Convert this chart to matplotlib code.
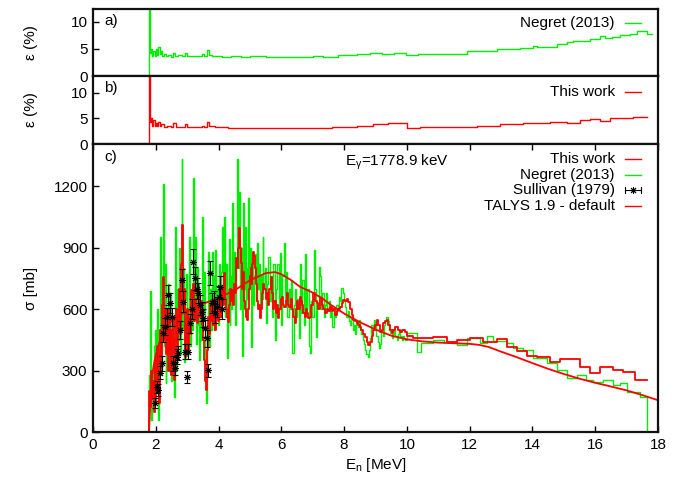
import matplotlib
matplotlib.use("Agg")
import matplotlib.pyplot as plt

plt.rcParams['font.family'] = ['Liberation Sans', 'DejaVu Sans']
plt.rcParams['font.size'] = 11
plt.rcParams['mathtext.default'] = 'regular'

GREEN = '#00ee00'
RED = '#ff0000'

# --- panel a: Negret (2013) relative uncertainty [%] (bin left edges)
neg_unc_e = [1.70, 1.79, 1.81, 1.84, 1.88, 1.92, 1.96, 2.00, 2.04, 2.08, 2.12, 2.16,
             2.20, 2.26, 2.32, 2.40, 2.50, 2.56, 2.62, 2.72, 2.82, 2.93, 3.00,
             3.10, 3.25, 3.40, 3.46, 3.55, 3.62, 3.68, 3.80, 3.90, 4.10, 4.40,
             4.70, 5.00, 5.50, 6.00, 6.50, 7.00, 7.33, 7.80, 8.40, 8.82, 9.20,
             9.60, 9.97, 10.36, 11.00, 11.90, 12.86, 13.60, 14.03, 14.13, 14.77,
             15.09, 15.30, 15.83, 16.15, 16.31, 16.52, 16.79, 17.10, 17.32, 17.64, 17.80]
neg_unc = [0.0, 12.5, 4.2, 5.0, 3.6, 4.6, 3.7, 4.9, 3.8, 5.4, 4.0, 4.6,
           3.6, 4.0, 3.6, 3.8, 3.5, 4.2, 3.6, 3.8, 3.6, 4.3, 3.7,
           3.6, 3.7, 3.6, 4.0, 3.7, 4.8, 3.9, 3.6, 3.7, 3.5, 3.6,
           3.5, 3.6, 3.5, 3.55, 3.5, 3.6, 3.55, 3.8, 4.0, 4.3, 4.1,
           4.3, 3.85, 3.97, 4.1, 4.5, 4.95, 5.2, 5.55, 5.4, 5.8,
           6.2, 6.45, 6.8, 7.3, 6.9, 7.2, 7.5, 7.8, 8.25, 7.65, 7.65]

# --- panel b: this work relative uncertainty [%]
tw_unc_e = [1.70, 1.79, 1.81, 1.84, 1.88, 1.92, 1.96, 2.00, 2.04, 2.08, 2.12, 2.18,
            2.26, 2.36, 2.48, 2.56, 2.64, 2.80, 2.93, 3.00, 3.20, 3.46, 3.55,
            3.62, 3.70, 3.90, 4.30, 4.68, 5.50, 6.80, 7.60, 8.40, 8.93, 9.40,
            9.99, 10.42, 12.22, 12.97, 13.71, 14.56, 15.09, 15.51, 15.83,
            16.15, 16.47, 17.21, 17.64]
tw_unc = [0.0, 13.5, 4.3, 5.0, 3.6, 4.6, 3.5, 4.2, 3.5, 4.4, 3.6, 3.9,
          3.3, 3.6, 3.3, 4.1, 3.4, 3.3, 3.9, 3.3, 3.4, 3.5, 3.3,
          4.4, 3.5, 3.3, 3.2, 3.15, 3.1, 3.1, 3.3, 3.6, 3.9, 4.1,
          3.07, 3.4, 3.6, 3.85, 4.05, 4.25, 4.2, 4.7, 4.9,
          4.57, 5.03, 5.37, 5.37]

# --- panel c: Negret (2013) cross section [mb]
neg_e = [1.70, 1.77, 1.80, 1.82, 1.84, 1.87, 1.90, 1.93, 1.96, 1.99, 2.02, 2.05,
         2.07, 2.10, 2.13, 2.16, 2.19, 2.22, 2.25, 2.28, 2.31, 2.34, 2.37, 2.40,
         2.43, 2.46, 2.49, 2.52, 2.55, 2.58, 2.61, 2.64, 2.67, 2.70, 2.73, 2.76,
         2.79, 2.82, 2.85, 2.88, 2.91, 2.94, 2.97, 3.00, 3.03, 3.06, 3.09, 3.12,
         3.15, 3.18, 3.21, 3.24, 3.27, 3.30, 3.33, 3.36, 3.39, 3.42, 3.45, 3.48,
         3.51, 3.54, 3.57, 3.60, 3.63, 3.66, 3.69, 3.72, 3.75, 3.78, 3.81, 3.84,
         3.87, 3.90, 3.93, 3.96, 3.99, 4.02, 4.05, 4.08, 4.11, 4.14, 4.17, 4.20,
         4.23, 4.26, 4.29, 4.32, 4.35, 4.38, 4.41, 4.44, 4.47, 4.50, 4.53, 4.56,
         4.59, 4.62, 4.65, 4.68, 4.71, 4.74, 4.77, 4.80, 4.83, 4.86, 4.89, 4.92,
         4.95, 4.98, 5.01, 5.04, 5.07, 5.10, 5.13, 5.16, 5.19, 5.22, 5.25, 5.28,
         5.31, 5.34, 5.37, 5.40, 5.43, 5.47, 5.51, 5.55, 5.59, 5.63, 5.67, 5.71,
         5.75, 5.79, 5.83, 5.87, 5.91, 5.95, 5.99, 6.03, 6.07, 6.11, 6.15, 6.19,
         6.23, 6.27, 6.31, 6.35, 6.39, 6.43, 6.47, 6.51, 6.55, 6.59, 6.63, 6.67,
         6.71, 6.75, 6.79, 6.83, 6.87, 6.91, 6.95, 6.99, 7.03, 7.07, 7.11, 7.15,
         7.19, 7.23, 7.27, 7.31, 7.35, 7.39, 7.43, 7.47, 7.51, 7.55, 7.59, 7.63,
         7.67, 7.71, 7.75, 7.79, 7.83, 7.87, 7.91, 7.95, 7.99, 8.03, 8.07, 8.11,
         8.15, 8.19, 8.23, 8.27, 8.31, 8.35, 8.39, 8.43, 8.47, 8.51, 8.55, 8.59,
         8.63, 8.67, 8.71, 8.75, 8.79, 8.83, 8.87, 8.91, 8.95, 8.99, 9.03, 9.07,
         9.11, 9.15, 9.19, 9.23, 9.27, 9.31, 9.35, 9.39, 9.43, 9.47, 9.51, 9.55,
         9.59, 9.63, 9.67, 9.71, 9.75, 9.79, 9.83, 9.87, 9.91, 9.95,
         10.00, 10.33, 10.45, 10.84, 11.17, 11.59, 11.91, 12.33, 12.54, 12.75,
         13.18, 13.39, 13.71, 14.02, 14.45, 14.77, 15.09, 15.41, 15.72, 15.94,
         16.26, 16.58, 16.79, 17.00, 17.43, 17.64]
neg_xs = [0, 280, 120, 690, 60, 300, 180, 420, 150, 500, 230, 600,
          60, 380, 950, 280, 700, 1210, 420, 820, 240, 560, 340, 720,
          300, 680, 250, 540, 400, 170, 1000, 300, 700, 450, 900, 380,
          620, 1330, 500, 800, 340, 650, 770, 370, 560, 950, 420, 700,
          500, 1240, 600, 950, 430, 800, 520, 720, 350, 640, 450, 1050,
          600, 780, 300, 140, 520, 880, 420, 700, 500, 880, 560, 760,
          500, 890, 600, 700, 520, 820, 600, 780, 1000, 650, 1050, 560,
          820, 360, 700, 940, 520, 760, 600, 1115, 700, 880, 520, 820,
          1330, 800, 1170, 600, 900, 370, 1115, 700, 1000, 560, 800, 650,
          1140, 700, 900, 416, 850, 620, 760, 870, 640, 920, 700, 820,
          610, 760, 650, 950, 700, 800, 530, 720, 855, 640, 760, 560,
          820, 450, 700, 822, 600, 871, 520, 760, 920, 640, 780, 560,
          700, 600, 740, 384, 620, 700, 560, 650, 460, 820, 580, 740,
          520, 870, 600, 700, 420, 384, 640, 560, 888, 700, 465, 620,
          806, 760, 600, 680, 560, 620, 680, 600, 640, 560, 600, 512,
          580, 560, 620, 600, 660, 640, 701, 680, 640, 611, 560, 590,
          540, 520, 560, 497, 520, 480, 540, 510, 546, 500, 480, 450,
          430, 400, 380, 367, 400, 460, 520, 500, 546, 520, 470, 440,
          410, 430, 500, 470, 520, 540, 562, 540, 500, 481, 460, 480,
          500, 470, 450, 480, 497, 470, 450, 470, 460, 450,
          481, 392, 433, 449, 441, 424, 457, 433, 468, 445,
          436, 408, 400, 359, 335, 302, 262, 278, 254, 245,
          254, 229, 240, 197, 172, 0]

# --- panel c: this work cross section [mb]
tw_e = [1.70, 1.78, 1.81, 1.84, 1.87, 1.90, 1.93, 1.96, 1.99, 2.02, 2.05, 2.08,
        2.11, 2.14, 2.17, 2.20, 2.23, 2.26, 2.29, 2.32, 2.35, 2.38, 2.41, 2.44,
        2.47, 2.50, 2.53, 2.56, 2.59, 2.62, 2.65, 2.68, 2.71, 2.74, 2.77, 2.80,
        2.83, 2.86, 2.89, 2.92, 2.95, 2.98, 3.01, 3.04, 3.07, 3.10, 3.13, 3.16,
        3.19, 3.22, 3.25, 3.28, 3.31, 3.34, 3.37, 3.40, 3.43, 3.46, 3.49, 3.52,
        3.55, 3.58, 3.61, 3.64, 3.67, 3.70, 3.73, 3.76, 3.79, 3.82, 3.85, 3.88,
        3.91, 3.94, 3.97, 4.00, 4.03, 4.06, 4.09, 4.12, 4.15, 4.18, 4.21, 4.24,
        4.27, 4.30, 4.33, 4.36, 4.39, 4.42, 4.45, 4.48, 4.51, 4.54, 4.57, 4.60,
        4.63, 4.66, 4.69, 4.72, 4.75, 4.78, 4.81, 4.84, 4.87, 4.90, 4.93, 4.96,
        4.99, 5.02, 5.05, 5.08, 5.11, 5.14, 5.17, 5.20, 5.23, 5.26, 5.29, 5.32,
        5.35, 5.38, 5.42, 5.46, 5.50, 5.54, 5.58, 5.62, 5.66, 5.70, 5.74, 5.78,
        5.82, 5.86, 5.90, 5.94, 5.98, 6.02, 6.06, 6.10, 6.14, 6.18, 6.22, 6.26,
        6.30, 6.34, 6.38, 6.42, 6.46, 6.50, 6.54, 6.58, 6.62, 6.66, 6.70, 6.74,
        6.78, 6.82, 6.86, 6.90, 6.95, 7.01, 7.07, 7.13, 7.18, 7.23, 7.28, 7.33,
        7.39, 7.44, 7.49, 7.55, 7.60, 7.66, 7.71, 7.76, 7.82, 7.87, 7.92, 7.97,
        8.02, 8.08, 8.13, 8.18, 8.24, 8.29, 8.34, 8.40, 8.45, 8.50, 8.55, 8.61,
        8.66, 8.72, 8.77, 8.82, 8.88, 8.93, 8.98, 9.04, 9.09, 9.14, 9.20, 9.25,
        9.30, 9.36, 9.41, 9.47, 9.52, 9.57, 9.63, 9.68, 9.73, 9.78, 9.83, 9.88,
        9.94, 10.00, 10.20, 10.84, 11.27, 11.59, 12.01, 12.43, 12.86, 13.18,
        13.50, 13.82, 14.13, 14.56, 14.88, 15.51, 15.83, 16.15, 16.58, 16.89,
        17.27, 17.64]
tw_xs = [0, 200, 120, 300, 160, 250, 100, 350, 140, 300, 420, 200,
         140, 500, 300, 620, 758, 450, 600, 380, 520, 300, 600, 400,
         500, 280, 420, 562, 254, 450, 600, 350, 560, 700, 480, 820,
         1010, 600, 700, 367, 520, 450, 600, 400, 560, 480, 692, 620,
         720, 540, 650, 560, 530, 620, 680, 560, 640, 520, 600, 450,
         350, 250, 205, 400, 560, 480, 620, 540, 640, 520, 600, 498,
         560, 620, 540, 660, 600, 650, 560, 700, 620, 774, 650, 600,
         560, 538, 620, 700, 640, 693, 620, 720, 680, 760, 850, 800,
         900, 995, 900, 825, 700, 780, 640, 600, 560, 546, 600, 700,
         760, 800, 720, 820, 880, 860, 801, 720, 640, 600, 620, 556,
         600, 680, 724, 700, 650, 676, 620, 700, 758, 680, 600, 640,
         580, 620, 556, 600, 650, 660, 620, 611, 640, 676, 620, 611,
         650, 600, 560, 530, 600, 640, 600, 660, 640, 620, 580, 560,
         600, 580, 555, 560, 620, 678, 640, 628, 600, 653, 620, 600,
         579, 600, 590, 611, 590, 600, 571, 590, 600, 611, 630, 644,
         640, 650, 636, 600, 570, 546, 540, 530, 520, 514, 500, 480,
         465, 440, 424, 440, 470, 497, 520, 546, 520, 489, 500, 530,
         540, 546, 520, 500, 481, 500, 510, 514, 500, 490, 500, 497,
         490, 470, 457, 465, 441, 449, 457, 441, 453, 416,
         397, 371, 367, 343, 355, 319, 286, 319, 302, 294,
         254, 254]

# --- panel c: Sullivan (1979)
sul_e = [1.98, 2.03, 2.08, 2.13, 2.19, 2.24, 2.29, 2.35, 2.40, 2.45, 2.51, 2.56,
         2.61, 2.67, 2.72, 2.77, 2.83, 2.88, 2.93, 2.98, 3.04, 3.09, 3.14, 3.20,
         3.25, 3.30, 3.36, 3.41, 3.46, 3.51, 3.57, 3.62, 3.67, 3.73, 3.78, 3.84,
         3.89, 3.94, 4.00, 4.05, 4.10]
sul_xs = [140, 221, 205, 290, 335, 481, 514, 562, 668, 628, 562, 335,
          311, 367, 385, 498, 741, 636, 392, 270, 392, 530, 600, 831,
          750, 700, 677, 620, 587, 555, 506, 457, 302, 774, 628, 640,
          579, 610, 660, 709, 600]
sul_err = [25, 30, 28, 30, 35, 40, 42, 45, 50, 48, 45, 35,
           32, 36, 36, 42, 55, 50, 36, 30, 38, 45, 48, 62,
           56, 52, 50, 48, 46, 45, 42, 40, 32, 58, 48, 50,
           46, 48, 50, 54, 48]

# --- panel c: TALYS 1.9 default
talys_e = [1.00, 1.78, 1.82, 1.86, 1.90, 1.95, 2.00, 2.10, 2.20, 2.30, 2.50, 2.70,
           3.00, 3.50, 4.00, 4.50, 5.00, 5.50, 5.80, 6.00, 6.30, 6.60, 7.00,
           7.30, 7.60, 8.00, 8.50, 9.00, 9.50, 10.00, 10.50, 11.00, 11.50,
           12.00, 12.30, 12.60, 13.00, 13.50, 14.00, 14.50, 15.00, 15.50,
           16.00, 16.50, 17.00, 17.50, 18.00]
talys_xs = [0, 0, 120, 220, 290, 340, 375, 430, 475, 505, 540, 565,
            590, 625, 655, 690, 740, 775, 780, 770, 742, 708, 680,
            652, 618, 578, 536, 500, 470, 452, 442, 436, 433,
            430, 425, 415, 392, 365, 336, 308, 283, 260,
            240, 222, 203, 180, 155]

W, H = 683, 478
fig = plt.figure(figsize=(W / 100, H / 100), dpi=100)


def px_box(x0, y0, x1, y1):
    return [x0 / W, 1 - y1 / H, (x1 - x0) / W, (y1 - y0) / H]


ax_a = fig.add_axes(px_box(93, 9, 658, 76))
ax_b = fig.add_axes(px_box(93, 76, 658, 144))
ax_c = fig.add_axes(px_box(93, 144, 658, 432))

for ax in (ax_a, ax_b, ax_c):
    ax.set_xlim(0, 18)
    for sp in ax.spines.values():
        sp.set_linewidth(1.6)
        sp.set_color('#111111')
    ax.tick_params(direction='in', length=4, width=1, labelsize=11, pad=4)

for ax in (ax_a, ax_b):
    ax.set_xticks([])
    ax.set_yticks([0, 5, 10])
    ax.set_ylabel('ε (%)', fontsize=11, labelpad=14)
    ax.yaxis.set_label_coords(-0.098, 0.5)

ax_a.set_ylim(0, 12.3)
ax_b.set_ylim(0, 13.3)

ax_a.plot(neg_unc_e, neg_unc, color=GREEN, lw=1.0, drawstyle='steps-post')
ax_b.plot(tw_unc_e, tw_unc, color=RED, lw=1.0, drawstyle='steps-post')

ax_a.text(0.02, 0.82, 'a)', transform=ax_a.transAxes, va='center')
ax_b.text(0.02, 0.82, 'b)', transform=ax_b.transAxes, va='center')

# panel c
ax_c.set_ylim(0, 1405)
ax_c.set_xticks(range(0, 19, 2))
ax_c.set_yticks([0, 300, 600, 900, 1200])
ax_c.tick_params(axis='x', top=True)
ax_c.plot(neg_e, neg_xs, color=GREEN, lw=1.0, drawstyle='steps-post')
ax_c.plot(tw_e, tw_xs, color=RED, lw=1.3, drawstyle='steps-post')
ax_c.plot(talys_e, talys_xs, color=RED, lw=1.3)
ax_c.errorbar(sul_e, sul_xs, yerr=sul_err, fmt='none', ecolor='black',
              elinewidth=0.8, capsize=2.5, capthick=0.8)
ax_c.plot(sul_e, sul_xs, ls='none', marker=(8, 2, 0), ms=5, mew=0.7,
          color='black')
ax_c.text(0.02, 0.955, 'c)', transform=ax_c.transAxes, va='center')
ax_c.text((345 - 93) / 565, 1 - (162 - 144) / 288, r'E$_\gamma$=1778.9 keV',
          transform=ax_c.transAxes, va='center')
ax_c.set_xlabel('E$_n$ [MeV]', fontsize=11, labelpad=3)
ax_c.set_ylabel('σ [mb]', fontsize=11)
ax_c.yaxis.set_label_coords(-0.098, 0.5)


# gnuplot-style keys: right-aligned text, sample on the right
def key_entry(ax, y_px, y_top, label, color=None, errbar=False):
    x_txt = (615 - 93) / 565
    x0, x1 = (625 - 93) / 565, (641 - 93) / 565
    h = ax.get_position().height * H
    y = 1 - (y_px - y_top) / h
    ax.text(x_txt, y, label, transform=ax.transAxes, ha='right', va='center')
    if errbar:
        cap = 3 / h
        ax.plot([x0, x1], [y, y], color='black', lw=0.8, transform=ax.transAxes)
        for xc in (x0, x1):
            ax.plot([xc, xc], [y - cap, y + cap], color='black', lw=0.8,
                    transform=ax.transAxes)
        ax.plot([(x0 + x1) / 2], [y], ls='none', marker=(8, 2, 0), ms=5,
                mew=0.7, color='black', transform=ax.transAxes)
    else:
        ax.plot([x0, x1], [y, y], color=color, lw=1.0, transform=ax.transAxes)


key_entry(ax_a, 23, 9, 'Negret (2013)', GREEN)
key_entry(ax_b, 92, 76, 'This work', RED)
key_entry(ax_c, 159, 144, 'This work', RED)
key_entry(ax_c, 174.5, 144, 'Negret (2013)', GREEN)
key_entry(ax_c, 190, 144, 'Sullivan (1979)', errbar=True)
key_entry(ax_c, 205.5, 144, 'TALYS 1.9 - default', RED)

fig.savefig('out.png', dpi=100)
